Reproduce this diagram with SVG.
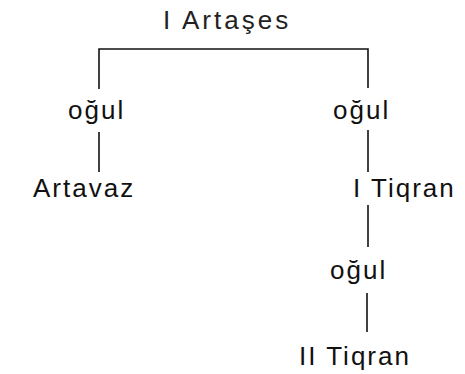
<svg xmlns="http://www.w3.org/2000/svg" width="465" height="374" viewBox="0 0 465 374">
  <style>
    .lbl { font-family: "Liberation Sans", Arial, sans-serif; font-size: 26px; fill: #111; letter-spacing: 2px; }
    .title { letter-spacing: 3px; fill: #222; }
    .edge { stroke: #111; stroke-width: 1.6; fill: none; }
  </style>
  <rect width="465" height="374" fill="#fff"/>
  <!-- family-tree links -->
  <g id="connectors">
    <path class="edge" d="M99 89 V49 H368 V88"/>
    <line class="edge" x1="99" y1="132" x2="99" y2="172"/>
    <line class="edge" x1="368" y1="130" x2="368" y2="172"/>
    <line class="edge" x1="368" y1="205" x2="368" y2="247"/>
    <line class="edge" x1="367" y1="293" x2="367" y2="332"/>
  </g>
  <g id="artases"><text class="lbl title" x="163" y="29">I Artaşes</text></g>
  <g id="ogul-left"><text class="lbl" x="68" y="119">oğul</text></g>
  <g id="artavaz"><text class="lbl" x="33" y="197">Artavaz</text></g>
  <g id="ogul-right"><text class="lbl" x="333" y="119">oğul</text></g>
  <g id="tiqran-1"><text class="lbl" x="353" y="197">I Tiqran</text></g>
  <g id="ogul-lower"><text class="lbl" x="330" y="279">oğul</text></g>
  <g id="tiqran-2"><text class="lbl" x="299" y="365">II Tiqran</text></g>
</svg>
